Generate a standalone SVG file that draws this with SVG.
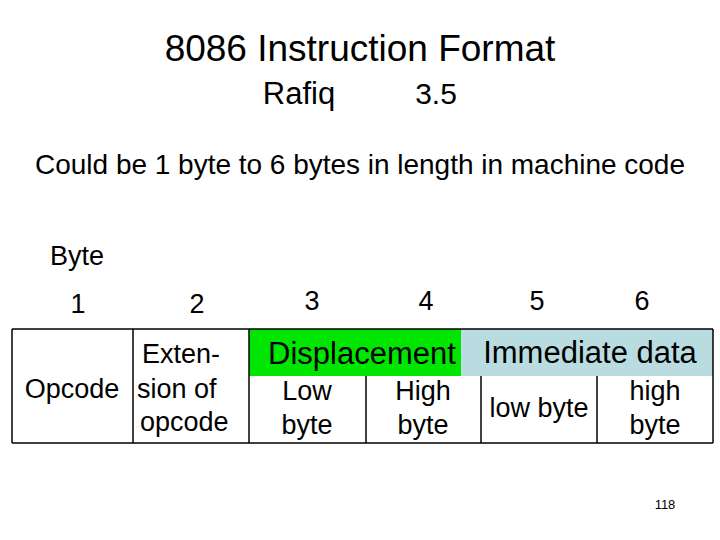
<svg xmlns="http://www.w3.org/2000/svg" width="720" height="540" viewBox="0 0 720 540">
<style>
text{font-family:"Liberation Sans",Arial,sans-serif;fill:#000}
.t{font-size:27px}
.c{text-anchor:middle}
line{stroke:#000;stroke-width:1.5}
</style>
<rect width="720" height="540" fill="#fff"/>
<text x="360" y="61" class="c" font-size="37">8086 Instruction Format</text>
<text x="299" y="104" class="c" font-size="31">Rafiq</text>
<text x="436" y="104" class="c" font-size="30">3.5</text>
<text x="360" y="174" class="c" font-size="28" textLength="650">Could be 1 byte to 6 bytes in length in machine code</text>
<text x="50" y="265" class="t">Byte</text>
<g class="t c">
<text x="78" y="313">1</text><text x="197" y="313">2</text><text x="312" y="310">3</text>
<text x="426" y="310">4</text><text x="537" y="310">5</text><text x="642" y="310">6</text>
</g>
<g id="table">
<rect x="249" y="329" width="212" height="47" fill="#00e600"/>
<rect x="461" y="329" width="252" height="47" fill="#b8dce0"/>
<g id="lines">
<line x1="12" y1="329" x2="713" y2="329"/>
<line x1="12" y1="443" x2="713" y2="443"/>
<line x1="12" y1="329" x2="12" y2="443"/>
<line x1="713" y1="329" x2="713" y2="443"/>
<line x1="133" y1="329" x2="133" y2="443"/>
<line x1="249" y1="329" x2="249" y2="443"/>
<line x1="366" y1="376" x2="366" y2="443"/>
<line x1="481" y1="376" x2="481" y2="443"/>
<line x1="597" y1="376" x2="597" y2="443"/>
</g>
<g class="t">
<text x="72" y="398" class="c">Opcode</text>
<text x="142" y="363">Exten-</text>
<text x="137" y="398">sion of</text>
<text x="140" y="431">opcode</text>
<text x="362" y="364" class="c" font-size="31">Displacement</text>
<text x="590" y="363" class="c" font-size="31">Immediate data</text>
<text x="307" y="400" class="c">Low</text><text x="307" y="434" class="c">byte</text>
<text x="423" y="400" class="c">High</text><text x="423" y="434" class="c">byte</text>
<text x="539" y="417" class="c">low byte</text>
<text x="655" y="400" class="c">high</text><text x="655" y="434" class="c">byte</text>
</g>
</g>
<text x="665" y="509" class="c" font-size="13">118</text>
</svg>
